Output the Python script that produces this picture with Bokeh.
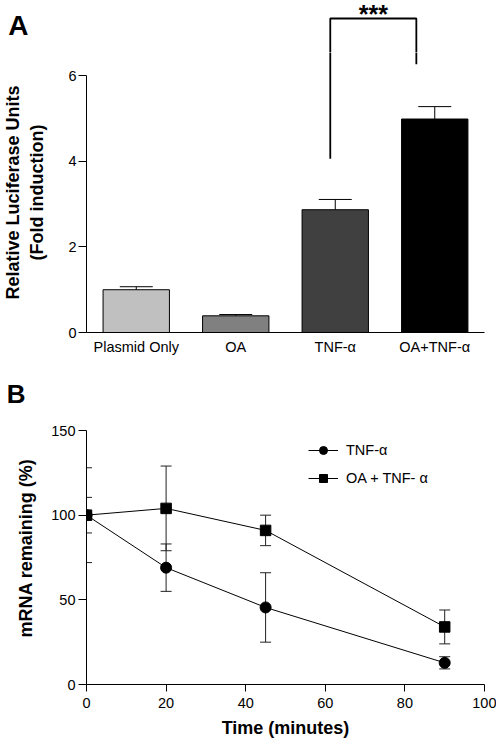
from bokeh.plotting import figure
from bokeh.layouts import column
from bokeh.models import (Range1d, FixedTicker, Whisker, TeeHead,
                          ColumnDataSource, Legend, LegendItem)
from bokeh.core.properties import value
from bokeh.embed import file_html
from bokeh.resources import INLINE

FONT = "Liberation Sans"

# ---------------- Panel A data ----------------
categories = ["Plasmid Only", "OA", "TNF-α", "OA+TNF-α"]
fold = [1.0, 0.39, 2.87, 4.99]
fold_err = [0.07, 0.03, 0.24, 0.29]
bar_colors = ["#c0c0c0", "#808080", "#404040", "#000000"]
a_yticks = [0, 2, 4, 6]
sig_pair = (2, 3)
sig_offsets = (-0.05, -0.185)
sig_levels = [4.06, 7.34, 6.27]   # left leg bottom, bracket top, right leg bottom
sig_text = "***"

# ---------------- Panel B data ----------------
time_min = [0, 20, 45, 90]
tnf = [100, 69, 45.5, 12.8]
tnf_err = [28, 14, 20.5, 3.6]
oa_tnf = [100, 104, 91, 34]
oa_tnf_err = [10.5, 25, 9, 10]
b_xticks = [0, 20, 40, 60, 80, 100]
b_yticks = [0, 50, 100, 150]

# ---------------- layout (pixels) ----------------
W = 496
A_STRIP_H = 52          # strip above panel A's frame (panel letter, bracket top, stars)
A_H = 323
A_LEFT, A_RIGHT, A_BOTTOM = 80, 9, 43
B_STRIP_H = 36
B_H = 331
B_LEFT, B_RIGHT, B_BOTTOM = 81, 12, 58

a_frame_h = A_H - A_BOTTOM
a_px_y = 42.78                              # px per fold unit
a_ytop = a_frame_h / a_px_y
b_frame_h = B_H - B_BOTTOM
b_px_y = 254.0 / 150.0
b_ytop = b_frame_h / b_px_y


def style_axis(ax, size="14.5px"):
    ax.axis_line_color = "black"
    ax.axis_line_width = 1
    ax.major_tick_line_color = "black"
    ax.major_tick_line_width = 1
    ax.minor_tick_line_color = None
    ax.major_label_text_font = FONT
    ax.major_label_text_font_size = size
    ax.major_label_text_color = "black"
    ax.axis_label_text_font = FONT
    ax.axis_label_text_font_style = "bold"
    ax.axis_label_text_font_size = "18px"
    ax.axis_label_text_color = "black"


def bare(p):
    p.outline_line_color = None
    p.grid.visible = False
    return p


def letter_axis(ax, tick, text, size, right_edge_px, left_border):
    """Panel letter drawn as the only tick label of an otherwise hidden axis."""
    ax.ticker = FixedTicker(ticks=[tick])
    ax.major_label_overrides = {tick: text}
    ax.axis_line_color = None
    ax.major_tick_line_color = None
    ax.minor_tick_line_color = None
    ax.major_tick_out = 0
    ax.major_tick_in = 0
    ax.major_label_standoff = left_border - right_edge_px
    ax.major_label_text_font = FONT
    ax.major_label_text_font_style = "bold"
    ax.major_label_text_font_size = size
    ax.major_label_text_color = "black"


xs = list(range(len(categories)))
bx0 = xs[sig_pair[0]] + sig_offsets[0]
bx1 = xs[sig_pair[1]] + sig_offsets[1]
bracket_x = [bx0, bx0, bx1, bx1]
bracket_y = [sig_levels[0], sig_levels[1], sig_levels[1], sig_levels[2]]

xA = Range1d(-0.5, 3.5)

# ================= Strip above panel A =================
sA = bare(figure(width=W, height=A_STRIP_H, output_backend="svg",
                 toolbar_location=None, x_axis_location=None,
                 y_axis_location="left",
                 x_range=xA,
                 y_range=Range1d(a_ytop, a_ytop + A_STRIP_H / a_px_y),
                 min_border_left=A_LEFT, min_border_right=A_RIGHT,
                 min_border_top=0, min_border_bottom=0))
sA.line(x=bracket_x, y=bracket_y, line_color="black", line_width=1.8)
sA.text(x=[(bx0 + bx1) / 2], y=[sig_levels[1] + 0.10], text=[sig_text],
        text_align="center", text_baseline="alphabetic",
        text_font=value(FONT), text_font_style="bold",
        text_font_size="25px", text_color="black")
a_letter_tick = round(a_ytop + (A_STRIP_H - 25) / a_px_y, 2)
letter_axis(sA.yaxis[0], a_letter_tick, "A", "28px", 22, A_LEFT)

# ================= Panel A =================
pA = bare(figure(width=W, height=A_H, output_backend="svg", toolbar_location=None,
                 x_range=xA, y_range=Range1d(0, a_ytop),
                 min_border_left=A_LEFT, min_border_right=A_RIGHT,
                 min_border_top=0, min_border_bottom=A_BOTTOM))

srcA = ColumnDataSource(dict(
    x=xs, top=fold,
    err_top=[f + e for f, e in zip(fold, fold_err)],
    color=bar_colors))
pA.vbar(x="x", top="top", bottom=0, width=0.667, fill_color="color",
        line_color="black", line_width=1, source=srcA)
pA.add_layout(Whisker(base="x", lower="top", upper="err_top", source=srcA,
                      dimension="height", lower_head=None,
                      upper_head=TeeHead(size=33, line_color="black", line_width=1),
                      line_color="black", line_width=1))
pA.line(x=bracket_x, y=bracket_y, line_color="black", line_width=1.8)

ya = pA.yaxis[0]
style_axis(ya)
ya.ticker = FixedTicker(ticks=a_yticks)
ya.bounds = (a_yticks[0], a_yticks[-1])
ya.major_tick_out = 8
ya.major_tick_in = 0
ya.major_label_standoff = 2
ya.axis_label = "Relative Luciferase Units\n(Fold induction)"
ya.axis_label_standoff = 18

xa = pA.xaxis[0]
style_axis(xa)
xa.ticker = FixedTicker(ticks=xs)
xa.major_label_overrides = {i: c for i, c in zip(xs, categories)}
xa.major_tick_line_color = None
xa.major_tick_out = 0
xa.major_label_standoff = 6

# ================= Strip above panel B =================
xB = Range1d(0, 100)
sB = bare(figure(width=W, height=B_STRIP_H, output_backend="svg",
                 toolbar_location=None, x_axis_location=None,
                 y_axis_location="left",
                 x_range=xB, y_range=Range1d(0, B_STRIP_H),
                 min_border_left=B_LEFT, min_border_right=B_RIGHT,
                 min_border_top=0, min_border_bottom=0))
letter_axis(sB.yaxis[0], 12, "B", "26px", 20, B_LEFT)

# ================= Panel B =================
pB = bare(figure(width=W, height=B_H, output_backend="svg", toolbar_location=None,
                 x_range=xB, y_range=Range1d(0, b_ytop),
                 min_border_left=B_LEFT, min_border_right=B_RIGHT,
                 min_border_top=0, min_border_bottom=B_BOTTOM))

srcT = ColumnDataSource(dict(
    x=time_min, y=tnf,
    lo=[v - e for v, e in zip(tnf, tnf_err)],
    hi=[v + e for v, e in zip(tnf, tnf_err)]))
srcO = ColumnDataSource(dict(
    x=time_min, y=oa_tnf,
    lo=[v - e for v, e in zip(oa_tnf, oa_tnf_err)],
    hi=[v + e for v, e in zip(oa_tnf, oa_tnf_err)]))

for src in (srcT, srcO):
    pB.add_layout(Whisker(base="x", lower="lo", upper="hi", source=src,
                          dimension="height",
                          lower_head=TeeHead(size=11, line_color="#222222", line_width=1),
                          upper_head=TeeHead(size=11, line_color="#222222", line_width=1),
                          line_color="#222222", line_width=1))

l1 = pB.line("x", "y", source=srcT, line_color="black", line_width=1)
m1 = pB.scatter("x", "y", source=srcT, marker="circle", size=11,
                fill_color="black", line_color="black")
l2 = pB.line("x", "y", source=srcO, line_color="black", line_width=1)
m2 = pB.scatter("x", "y", source=srcO, marker="square", size=10.5,
                fill_color="black", line_color="black")

legend_top = (450 - 10) - (375 + B_STRIP_H)   # first legend row centred ~450px
legend = Legend(items=[LegendItem(label="TNF-α", renderers=[l1, m1]),
                       LegendItem(label="OA + TNF- α", renderers=[l2, m2])],
                location=(222, b_frame_h - legend_top - 48), orientation="vertical",
                border_line_color=None, background_fill_alpha=0,
                padding=0, margin=0, spacing=8, glyph_width=30,
                glyph_height=20, label_standoff=8,
                label_text_font=FONT, label_text_font_size="14.5px",
                label_text_color="black")
pB.add_layout(legend)

yb = pB.yaxis[0]
style_axis(yb)
yb.ticker = FixedTicker(ticks=b_yticks)
yb.bounds = (b_yticks[0], b_yticks[-1])
yb.major_tick_out = 8
yb.major_tick_in = 0
yb.major_label_standoff = 3
yb.axis_label = "mRNA remaining (%)"
yb.axis_label_standoff = 12

xb = pB.xaxis[0]
style_axis(xb)
xb.ticker = FixedTicker(ticks=b_xticks)
xb.major_tick_out = 7
xb.major_tick_in = 0
xb.major_label_standoff = 6
xb.axis_label = "Time (minutes)"
xb.axis_label_standoff = 7

layout = column(sA, pA, sB, pB, spacing=0)
open("out.html", "w").write(file_html(layout, INLINE))
